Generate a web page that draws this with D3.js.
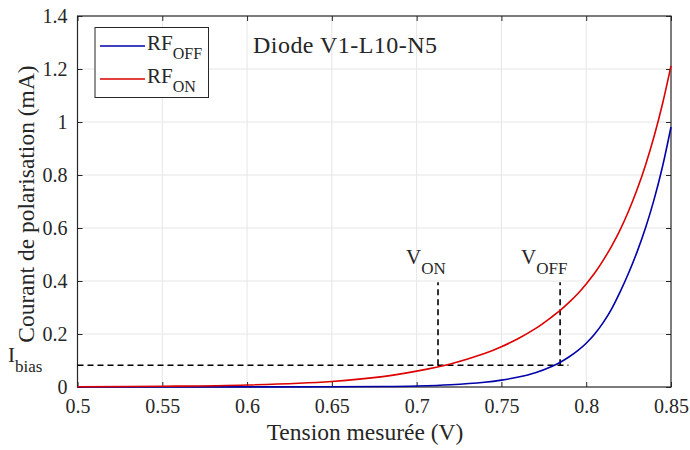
<!DOCTYPE html>
<html><head><meta charset="utf-8">
<script src="https://cdn.jsdelivr.net/npm/d3@7"></script>
<style>body{margin:0;background:#fff;} svg text{font-family:"Liberation Serif","Times New Roman",serif !important;fill:#262626;}</style>
</head><body><svg id="c" width="690" height="450"></svg>
<script>
const voltage = [0.50,0.55,0.60,0.65,0.68,0.70,0.72,0.74,0.75,0.76,0.77,0.78,0.785,0.79,0.795,0.80,0.805,0.81,0.815,0.82,0.825,0.83,0.835,0.84,0.845,0.85];
const currentRfOn  = [0.001,0.0027,0.0075,0.021,0.039,0.060,0.087,0.126,0.152,0.183,0.22,0.266,0.291,0.320,0.352,0.389,0.430,0.478,0.532,0.593,0.664,0.745,0.838,0.945,1.069,1.212];
const currentRfOff = [0,0.0001,0.0003,0.0012,0.002,0.004,0.0086,0.018,0.026,0.0375,0.054,0.0785,0.0945,0.114,0.137,0.165,0.200,0.243,0.295,0.359,0.430,0.510,0.601,0.707,0.832,0.981];
const xTicks = [0.5,0.55,0.6,0.65,0.7,0.75,0.8,0.85];
const yTicks = [0,0.2,0.4,0.6,0.8,1,1.2,1.4];
const iBias = 0.082, vOn = 0.7126, vOff = 0.7846, markerTop = 0.395;

const svg = d3.select("#c");
const L=77.5,R=671,T=16,B=387;
const x = d3.scaleLinear().domain([0.5,0.85]).range([L,R]);
const y = d3.scaleLinear().domain([0,1.4]).range([B,T]);
const FF = "Liberation Serif";

// grid
const g = svg.append("g");
g.selectAll(".gx").data(xTicks.slice(1,-1)).enter().append("line")
 .attr("x1",d=>x(d)).attr("x2",d=>x(d)).attr("y1",T).attr("y2",B).attr("stroke","#e6e6e6").attr("stroke-width",1);
g.selectAll(".gy").data(yTicks.slice(1,-1)).enter().append("line")
 .attr("y1",d=>y(d)).attr("y2",d=>y(d)).attr("x1",L).attr("x2",R).attr("stroke","#e6e6e6").attr("stroke-width",1);

// axes
const fmt = d=> d===0?"0":String(d);
const ax = svg.append("g").attr("transform",`translate(0,${B})`).call(d3.axisBottom(x).tickValues(xTicks).tickFormat(fmt).tickSizeInner(-5).tickSizeOuter(0).tickPadding(12));
const ay = svg.append("g").attr("transform",`translate(${L},0)`).call(d3.axisLeft(y).tickValues(yTicks).tickFormat(fmt).tickSizeInner(-5).tickSizeOuter(0).tickPadding(10));
const axT = svg.append("g").attr("transform",`translate(0,${T})`).call(d3.axisTop(x).tickValues(xTicks).tickFormat("").tickSizeInner(-5).tickSizeOuter(0));
const ayR = svg.append("g").attr("transform",`translate(${R},0)`).call(d3.axisRight(y).tickValues(yTicks).tickFormat("").tickSizeInner(-5).tickSizeOuter(0));
[ax,ay,axT,ayR].forEach(a=>{a.attr("font-family",FF); a.select(".domain").remove(); a.selectAll("line").attr("stroke","#262626");
  a.selectAll("text").style("font-size","20px").attr("fill","#262626");});
svg.append("rect").attr("x",L).attr("y",T).attr("width",R-L).attr("height",B-T).attr("fill","none").attr("stroke","#262626").attr("stroke-width",1.2);

// dashed markers
const dash = svg.append("g").attr("stroke","#000").attr("stroke-width",1.6).attr("stroke-dasharray","6,4").attr("fill","none");
dash.append("line").attr("x1",L).attr("x2",x(0.7895)).attr("y1",y(iBias)).attr("y2",y(iBias));
dash.append("line").attr("x1",x(vOn)).attr("x2",x(vOn)).attr("y1",y(iBias)).attr("y2",y(markerTop));
dash.append("line").attr("x1",x(vOff)).attr("x2",x(vOff)).attr("y1",y(iBias)).attr("y2",y(markerTop));

// curves
const line = arr => d3.line().x((d,i)=>x(voltage[i])).y(d=>y(d)).curve(d3.curveCatmullRom.alpha(0.5))(arr);
svg.append("path").attr("d",line(currentRfOff)).attr("fill","none").attr("stroke","#0000aa").attr("stroke-width",1.6);
svg.append("path").attr("d",line(currentRfOn)).attr("fill","none").attr("stroke","#dd0000").attr("stroke-width",1.6);

// labels
function sub(xp,yp,main,s,dy){
  const t = svg.append("text").attr("x",xp).attr("y",yp).attr("font-family",FF).style("font-size","21px");
  t.append("tspan").text(main);
  t.append("tspan").attr("dy",dy).style("font-size","17px").text(s);
  return t;
}
sub(406,264,"V","ON",10);
sub(521,264,"V","OFF",10);
sub(8,362,"I","bias",10);

// axis titles
svg.append("text").attr("x",365).attr("y",440).attr("text-anchor","middle").attr("font-family",FF).style("font-size","23.5px").text("Tension mesurée (V)");
svg.append("text").attr("transform",`translate(34,204) rotate(-90)`).attr("text-anchor","middle").attr("font-family",FF).style("font-size","23.5px").text("Courant de polarisation (mA)");

// annotation
svg.append("text").attr("x",253).attr("y",53).attr("font-family",FF).style("font-size","24px")
  .attr("textLength",184).attr("lengthAdjust","spacing").text("Diode V1-L10-N5");

// legend
const lg = svg.append("g");
lg.append("rect").attr("x",95).attr("y",27.5).attr("width",113.5).attr("height",70).attr("fill","#fff").attr("stroke","#262626").attr("stroke-width",1);
const leg = [["RF","OFF","#0000aa",46],["RF","ON","#dd0000",79]];
leg.forEach(([m,s,c,yy])=>{
  lg.append("line").attr("x1",100).attr("x2",145).attr("y1",yy).attr("y2",yy).attr("stroke",c).attr("stroke-width",1.6);
  const t = lg.append("text").attr("x",147).attr("y",yy+4).attr("font-family",FF).style("font-size","21px");
  t.append("tspan").text(m);
  t.append("tspan").attr("dy",9).style("font-size","16px").text(s);
});
</script></body></html>
